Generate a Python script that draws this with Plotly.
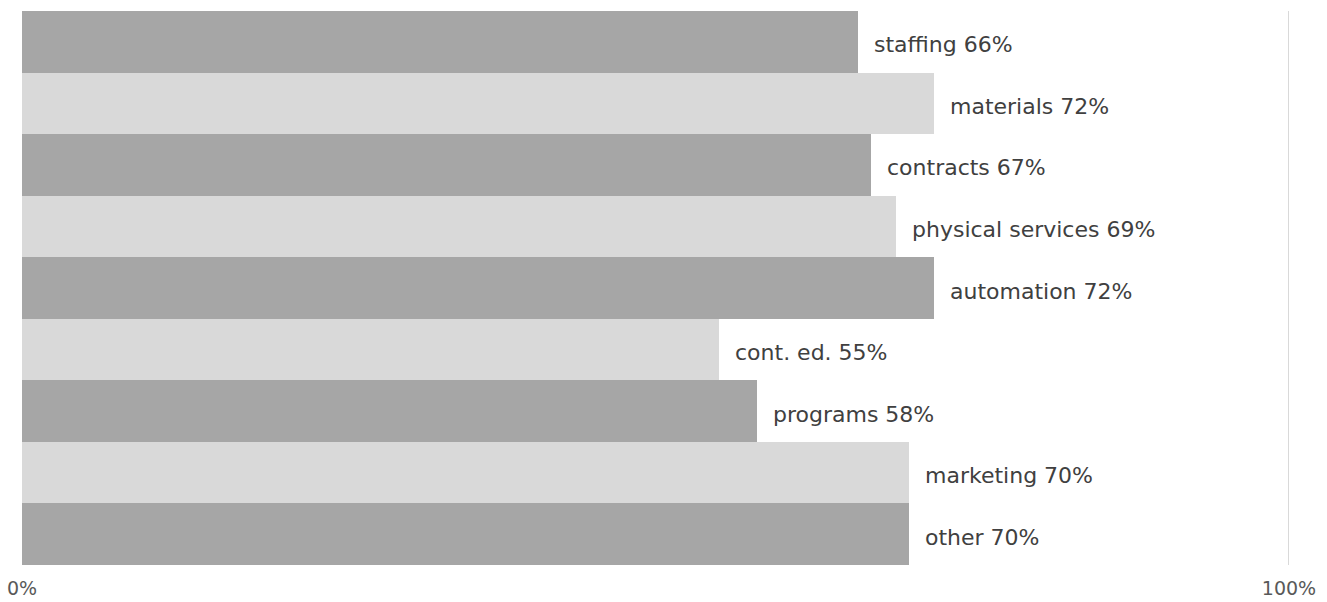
import plotly.graph_objects as go

categories = ["staffing", "materials", "contracts", "physical services", "automation",
              "cont. ed.", "programs", "marketing", "other"]
values = [66, 72, 67, 69, 72, 55, 58, 70, 70]
colors = ["#a6a6a6", "#d9d9d9", "#a6a6a6", "#d9d9d9", "#a6a6a6",
          "#d9d9d9", "#a6a6a6", "#d9d9d9", "#a6a6a6"]
tick_vals = [0, 100]
tick_text = ["0%", "100%"]

FONT = "DejaVu Sans"

fig = go.Figure(go.Bar(
    x=values,
    y=categories,
    orientation="h",
    marker=dict(color=colors, line=dict(width=0)),
    hoverinfo="skip",
))

# value labels to the right of each bar
for cat, val in zip(categories, values):
    fig.add_annotation(
        x=val, y=cat, text=f"{cat} {val}%", showarrow=False,
        xanchor="left", xshift=14, yshift=-3,
        font=dict(family=FONT, size=22, color="#404040"),
    )

# light vertical lines at the axis ends
for tv in tick_vals:
    fig.add_shape(
        type="line", xref="x", yref="paper", x0=tv, x1=tv, y0=0, y1=1,
        line=dict(color="#d9d9d9", width=2), layer="below",
    )

fig.update_layout(
    width=1327, height=602,
    margin=dict(l=22, r=38, t=11, b=37),
    paper_bgcolor="white", plot_bgcolor="white",
    bargap=0,
    showlegend=False,
    xaxis=dict(
        range=[0, 100], tickvals=tick_vals, ticktext=tick_text,
        showgrid=False, zeroline=False, showline=False, ticks="",
        automargin=False, ticklabelstandoff=10,
        tickfont=dict(family=FONT, size=19, color="#595959"),
    ),
    yaxis=dict(autorange="reversed", showticklabels=False, showgrid=False,
               zeroline=False, showline=False, ticks="", automargin=False),
)

fig.write_html("out.html")
